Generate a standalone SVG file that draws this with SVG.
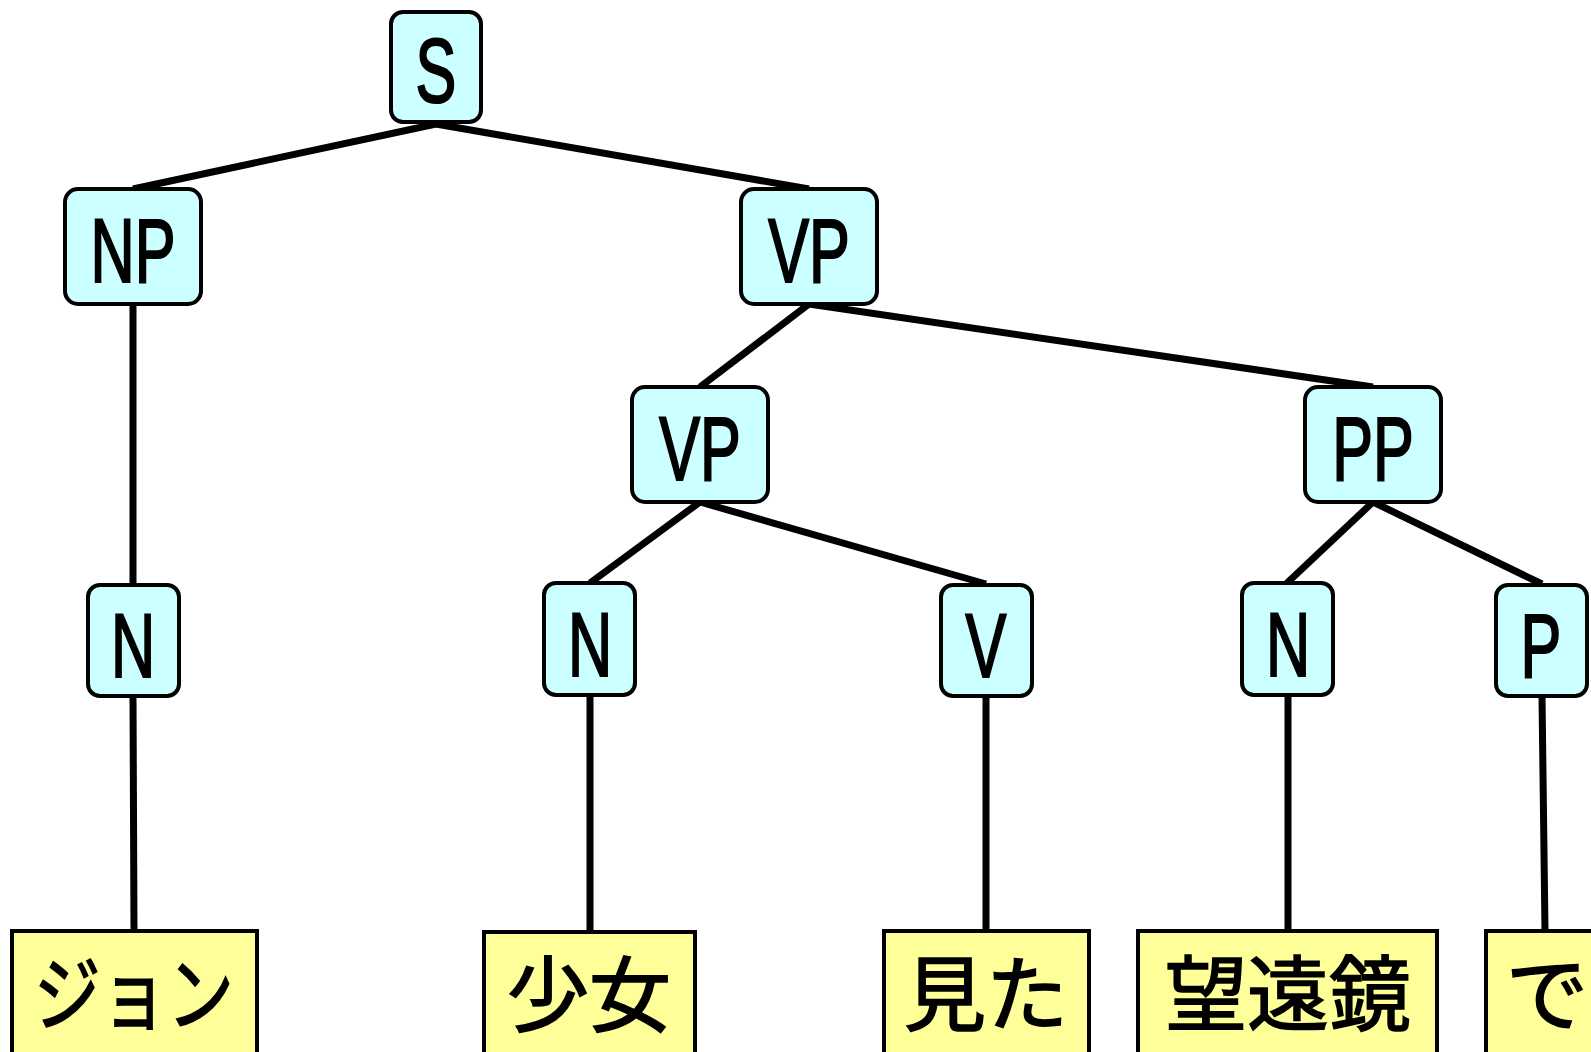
<svg xmlns="http://www.w3.org/2000/svg" width="1591" height="1052" viewBox="0 0 1591 1052">
<style>
  .node rect { fill: #CCFFFF; stroke: #000; stroke-width: 4; }
  .leaf rect { fill: #FFFF99; stroke: #000; stroke-width: 4; }
  .lbl { font-family: "Liberation Sans", Arial, sans-serif; font-size: 90px; fill: #000; stroke: #000; stroke-width: 2.2; text-anchor: middle; }
  .jp { font-family: "Noto Sans CJK JP", "Noto Sans CJK SC", sans-serif; font-size: 82px; fill: #000; stroke: #000; stroke-width: 1.6; text-anchor: middle; }
  #connectors line { stroke: #000; stroke-width: 7; stroke-linecap: butt; }
</style>
<rect x="0" y="0" width="1591" height="1052" fill="#ffffff"/>
<g id="connectors">
  <line x1="436" y1="124" x2="133" y2="189"/>
  <line x1="436" y1="124" x2="809" y2="189"/>
  <line x1="133" y1="304" x2="133" y2="585"/>
  <line x1="809" y1="304" x2="700" y2="387"/>
  <line x1="809" y1="304" x2="1373" y2="387"/>
  <line x1="700" y1="502" x2="590" y2="583"/>
  <line x1="700" y1="502" x2="986" y2="584"/>
  <line x1="1373" y1="502" x2="1287" y2="583"/>
  <line x1="1373" y1="502" x2="1542" y2="584"/>
  <line x1="133" y1="696" x2="134" y2="931"/>
  <line x1="590" y1="695" x2="590" y2="932"/>
  <line x1="986" y1="696" x2="986" y2="931"/>
  <line x1="1288" y1="695" x2="1288" y2="931"/>
  <line x1="1542" y1="696" x2="1545" y2="931"/>
</g>
<g id="node-S" class="node">
  <rect x="391" y="12" width="90" height="110" rx="12"/>
  <text class="lbl" transform="translate(436,102) scale(0.68,1)">S</text>
</g>
<g id="node-NP" class="node">
  <rect x="65" y="189" width="136" height="115" rx="13"/>
  <text class="lbl" transform="translate(133,282) scale(0.68,1)">NP</text>
</g>
<g id="node-VP1" class="node">
  <rect x="741" y="189" width="136" height="115" rx="13"/>
  <text class="lbl" transform="translate(809,282) scale(0.68,1)">VP</text>
</g>
<g id="node-VP2" class="node">
  <rect x="632" y="387" width="136" height="115" rx="13"/>
  <text class="lbl" transform="translate(700,480) scale(0.68,1)">VP</text>
</g>
<g id="node-PP" class="node">
  <rect x="1305" y="387" width="136" height="115" rx="13"/>
  <text class="lbl" transform="translate(1373,480) scale(0.68,1)">PP</text>
</g>
<g id="node-N1" class="node">
  <rect x="88" y="585" width="91" height="111" rx="12"/>
  <text class="lbl" transform="translate(133,677) scale(0.68,1)">N</text>
</g>
<g id="node-N2" class="node">
  <rect x="544" y="583" width="91" height="112" rx="12"/>
  <text class="lbl" transform="translate(590,676) scale(0.68,1)">N</text>
</g>
<g id="node-V" class="node">
  <rect x="941" y="585" width="91" height="111" rx="12"/>
  <text class="lbl" transform="translate(986,677) scale(0.68,1)">V</text>
</g>
<g id="node-N3" class="node">
  <rect x="1242" y="583" width="91" height="112" rx="12"/>
  <text class="lbl" transform="translate(1288,676) scale(0.68,1)">N</text>
</g>
<g id="node-P" class="node">
  <rect x="1496" y="585" width="91" height="111" rx="12"/>
  <text class="lbl" transform="translate(1541,677) scale(0.68,1)">P</text>
</g>
<g id="leaf-john" class="leaf">
  <rect x="12" y="931" width="245" height="140"/>
  <text class="jp" x="134" y="1024" textLength="200" lengthAdjust="spacingAndGlyphs">ジョン</text>
</g>
<g id="leaf-shoujo" class="leaf">
  <rect x="484" y="932" width="211" height="140"/>
  <text class="jp" x="589" y="1025">少女</text>
</g>
<g id="leaf-mita" class="leaf">
  <rect x="884" y="931" width="205" height="140"/>
  <text class="jp" x="986" y="1024">見た</text>
</g>
<g id="leaf-bouenkyou" class="leaf">
  <rect x="1138" y="931" width="299" height="140"/>
  <text class="jp" x="1288" y="1024">望遠鏡</text>
</g>
<g id="leaf-de" class="leaf">
  <rect x="1486" y="931" width="120" height="140"/>
  <text class="jp" x="1547" y="1024">で</text>
</g>
</svg>
